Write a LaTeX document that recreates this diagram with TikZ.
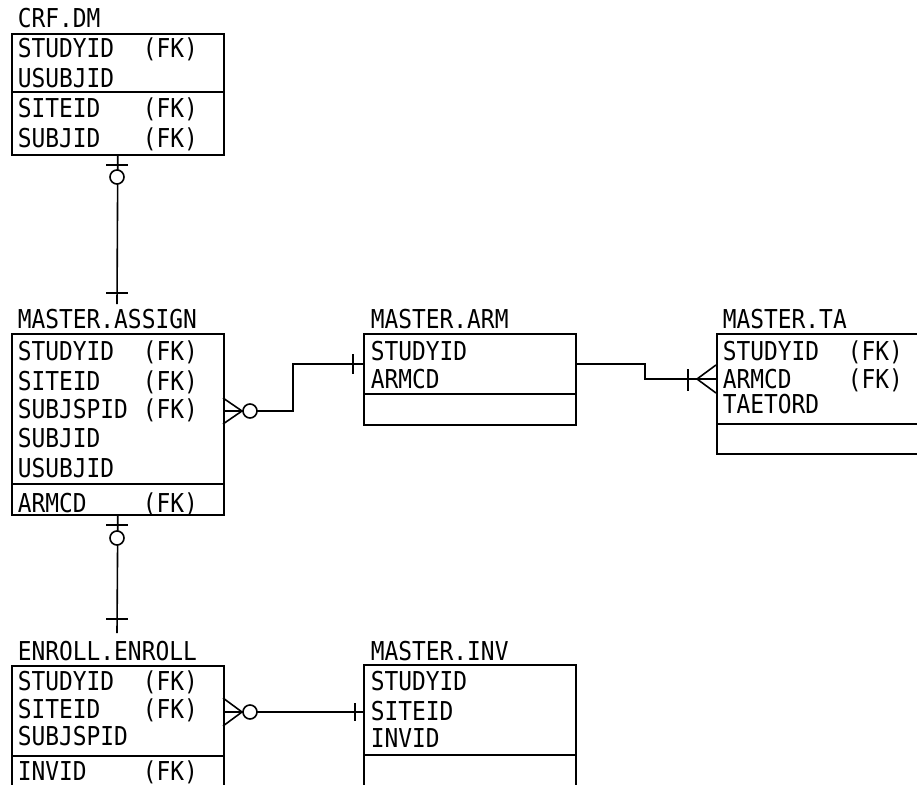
\documentclass[tikz,border=0pt]{standalone}
\usepackage{fontspec}
\newfontfamily\erfont[FakeStretch=0.88]{DejaVu Sans Mono}
\begin{document}
\begin{tikzpicture}[x=1pt,y=-1pt,line width=1.6pt,
  txt/.style={anchor=base west,inner sep=0pt,font=\erfont\fontsize{26}{30}\selectfont},
  box/.style={draw,anchor=north west,inner sep=0pt,line width=1.6pt},
  conn/.style={line width=1.6pt},
  ring/.style={draw,fill=white,line width=1.6pt}]
\useasboundingbox (0,0) rectangle (917,784);
\clip (0,0) rectangle (917,784);

% ---------- boxes ----------
\node[box,minimum width=212pt,minimum height=121pt] (dm) at (11,33) {};
\draw (11,92) -- (223,92);
\node[box,minimum width=212pt,minimum height=181pt] (assign) at (11,333) {};
\draw (11,484) -- (223,484);
\node[box,minimum width=212pt,minimum height=91pt] (arm) at (363,333) {};
\draw (363,394) -- (575,394);
\node[box,minimum width=260pt,minimum height=120pt] (ta) at (716,333) {};
\draw (716,424) -- (976,424);
\node[box,minimum width=212pt,minimum height=140pt] (enroll) at (11,665) {};
\draw (11,756) -- (223,756);
\node[box,minimum width=212pt,minimum height=140pt] (inv) at (363,664) {};
\draw (363,755) -- (575,755);

% ---------- texts ----------
\node[txt] (dmT) at (17,28) {CRF.DM};
\node[txt] (dm1) at (17,57) {STUDYID};  \node[txt] (dm1f) at (142,57) {(FK)};
\node[txt] (dm2) at (17,87) {USUBJID};
\node[txt] (dm3) at (17,117) {SITEID};  \node[txt] (dm3f) at (142,117) {(FK)};
\node[txt] (dm4) at (17,147) {SUBJID};  \node[txt] (dm4f) at (142,147) {(FK)};

\node[txt] (asT) at (17,328) {MASTER.ASSIGN};
\node[txt] (as1) at (17,360) {STUDYID};  \node[txt] (as1f) at (142,360) {(FK)};
\node[txt] (as2) at (17,390) {SITEID};   \node[txt] (as2f) at (142,390) {(FK)};
\node[txt] (as3) at (17,418) {SUBJSPID}; \node[txt] (as3f) at (142,418) {(FK)};
\node[txt] (as4) at (17,447) {SUBJID};
\node[txt] (as5) at (17,477) {USUBJID};
\node[txt] (as6) at (17,512) {ARMCD};    \node[txt] (as6f) at (142,512) {(FK)};

\node[txt] (arT) at (370,328) {MASTER.ARM};
\node[txt] (ar1) at (370,360) {STUDYID};
\node[txt] (ar2) at (370,388) {ARMCD};

\node[txt] (taT) at (722,328) {MASTER.TA};
\node[txt] (ta1) at (722,360) {STUDYID};  \node[txt] (ta1f) at (847,360) {(FK)};
\node[txt] (ta2) at (722,388) {ARMCD};    \node[txt] (ta2f) at (847,388) {(FK)};
\node[txt] (ta3) at (722,413) {TAETORD};

\node[txt] (enT) at (17,660) {ENROLL.ENROLL};
\node[txt] (en1) at (17,690) {STUDYID};  \node[txt] (en1f) at (142,690) {(FK)};
\node[txt] (en2) at (17,718) {SITEID};   \node[txt] (en2f) at (142,718) {(FK)};
\node[txt] (en3) at (17,745) {SUBJSPID};
\node[txt] (en4) at (17,780) {INVID};    \node[txt] (en4f) at (142,780) {(FK)};

\node[txt] (inT) at (370,660) {MASTER.INV};
\node[txt] (in1) at (370,690) {STUDYID};
\node[txt] (in2) at (370,720) {SITEID};
\node[txt] (in3) at (370,747) {INVID};

% ---------- connector end points ----------
\coordinate (c1) at (117,304);
\coordinate (c2) at (117,633);
\coordinate (asR) at (223,411);
\coordinate (arL) at (363,364);
\coordinate (arR) at (575,364);
\coordinate (taL) at (716,379);
\coordinate (enR) at (223,712);
\coordinate (inL) at (363,712);

% CRF.DM -- MASTER.ASSIGN
\draw[conn] (dm.south) -- (c1);
\draw[conn] (106,165) -- (128,165);
\draw[ring] (117,177) circle (7);
\draw[conn] (106,293) -- (128,293);

% MASTER.ASSIGN -- ENROLL.ENROLL
\draw[conn] (assign.south) -- (c2);
\draw[conn] (106,525) -- (128,525);
\draw[ring] (117,538) circle (7);
\draw[conn] (106,619) -- (128,619);

% MASTER.ASSIGN -- MASTER.ARM
\draw[conn] (asR) -- (293,411) -- (293,364) -- (arL);
\draw[conn] (223,398) -- (242,411) -- (223,424);
\draw[ring] (250,411) circle (7);
\draw[conn] (353,354) -- (353,374);

% MASTER.ARM -- MASTER.TA
\draw[conn] (arR) -- (645,364) -- (645,379) -- (taL);
\draw[conn] (688,369) -- (688,391);
\draw[conn] (716,365) -- (697,379) -- (716,393);

% ENROLL.ENROLL -- MASTER.INV
\draw[conn] (enR) -- (inL);
\draw[conn] (223,698) -- (242,712) -- (223,726);
\draw[ring] (250,712) circle (7);
\draw[conn] (355,703) -- (355,721);
\end{tikzpicture}
\end{document}
